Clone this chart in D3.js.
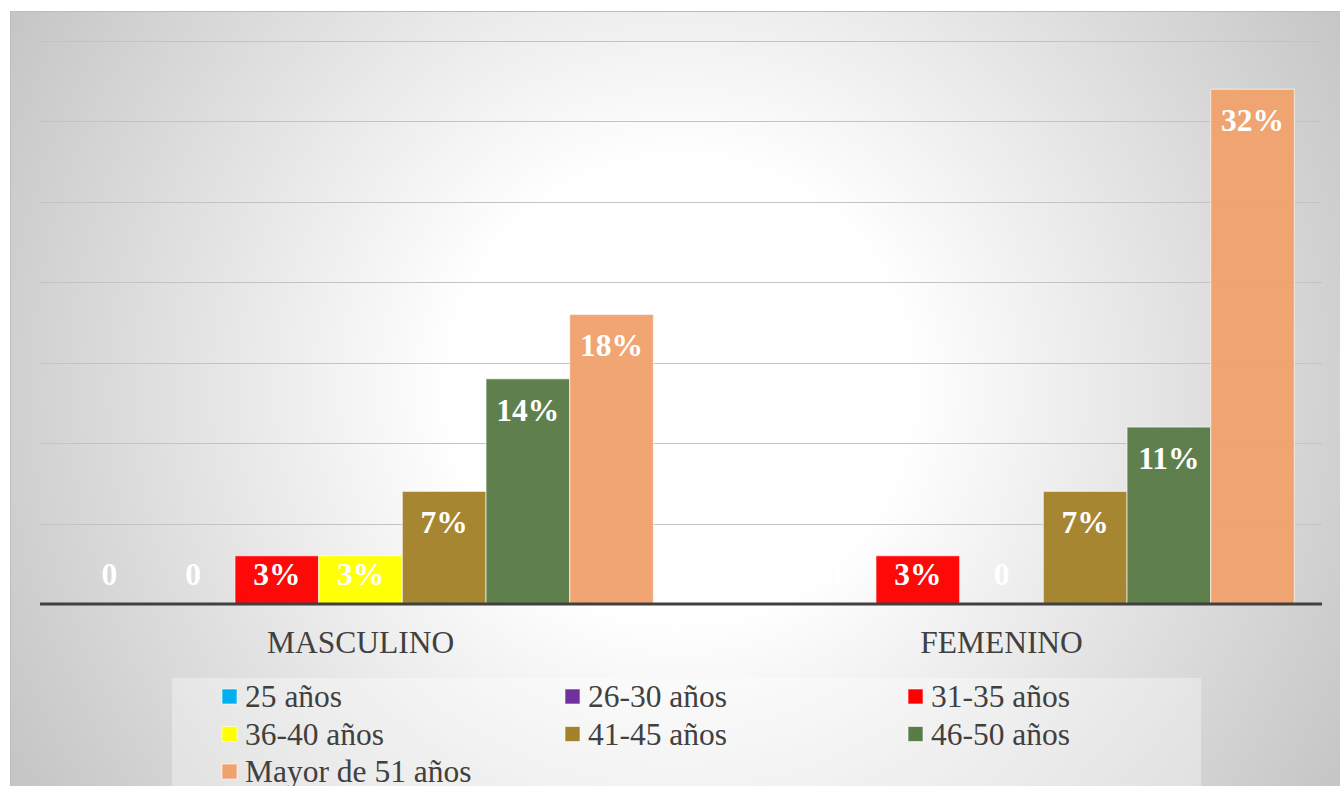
<!DOCTYPE html>
<html><head><meta charset="utf-8">
<script src="https://cdn.jsdelivr.net/npm/d3@7"></script>
<style>html,body{margin:0;padding:0;background:#fff;overflow:hidden}</style>
</head><body>
<svg id="c" width="1340" height="786"></svg>
<script>
const categories = ["MASCULINO", "FEMENINO"];
const seriesNames = ["25 años", "26-30 años", "31-35 años", "36-40 años", "41-45 años", "46-50 años", "Mayor de 51 años"];
const seriesColors = ["#00B0F0", "#7030A0", "#FF0000", "#FFFF00", "#A4822A", "#5A7C47", "#F0A26E"];
const masculino = [0, 0, 3, 3, 7, 14, 18];
const femenino = [0, 0, 3, 0, 7, 11, 32];
const yTicks = [0, 5, 10, 15, 20, 25, 30, 35];

const values = {MASCULINO: masculino, FEMENINO: femenino};
const svg = d3.select("#c");
const defs = svg.append("defs");
const g = defs.append("radialGradient").attr("id", "bg")
  .attr("gradientUnits", "userSpaceOnUse").attr("cx", 680).attr("cy", 390).attr("r", 760);
g.append("stop").attr("offset", "0").attr("stop-color", "#ffffff");
g.append("stop").attr("offset", "0.3").attr("stop-color", "#ffffff");
g.append("stop").attr("offset", "1").attr("stop-color", "#c6c6c6");

svg.append("rect").attr("x", 10.5).attr("y", 11.5).attr("width", 1340).attr("height", 800)
  .attr("fill", "url(#bg)").attr("stroke", "#bdbdbd").attr("stroke-width", 1);

const pLeft = 40, pRight = 1322, pTop = 41, pBottom = 604;
const y = d3.scaleLinear().domain([0, 35]).range([pBottom, pTop]);
const x0 = d3.scaleBand().domain(categories).range([pLeft, pRight]).padding(0);
const x1 = d3.scaleBand().domain(seriesNames).range([0, x0.bandwidth()]).paddingInner(0).paddingOuter(0.33);

// gridlines
svg.append("g").selectAll("line").data(yTicks.filter(t => t > 0)).join("line")
  .attr("x1", pLeft).attr("x2", pRight)
  .attr("y1", d => Math.round(y(d)) + 0.5).attr("y2", d => Math.round(y(d)) + 0.5)
  .attr("stroke", "#c3c3c3").attr("stroke-width", 1);

// bars
const groups = svg.append("g").selectAll("g").data(categories).join("g")
  .attr("transform", d => `translate(${x0(d)},0)`);
groups.selectAll("rect").data(c => values[c].map((v, i) => ({v, s: seriesNames[i], i})))
  .join("rect")
  .attr("x", d => x1(d.s)).attr("width", x1.bandwidth())
  .attr("y", d => y(d.v)).attr("height", d => pBottom - y(d.v))
  .attr("fill", d => seriesColors[d.i]).attr("fill-opacity", 0.97)
  .attr("stroke", d => d.v > 0 ? "rgba(255,255,255,0.55)" : "none").attr("stroke-width", 1.2);

groups.selectAll("text").data(c => values[c].map((v, i) => ({v, s: seriesNames[i], i})))
  .join("text")
  .attr("x", d => x1(d.s) + x1.bandwidth() / 2)
  .attr("y", d => Math.min(y(d.v) + 42, pBottom - 19))
  .attr("text-anchor", "middle")
  .attr("font-family", "'Liberation Serif', 'Times New Roman', serif")
  .attr("font-weight", "bold").attr("font-size", 31.5).attr("fill", "#ffffff")
  .text(d => d.v === 0 ? "0" : d.v + "%");

// baseline axis
const xAxis = svg.append("g").attr("transform", `translate(0,${pBottom})`)
  .call(d3.axisBottom(x0).tickSize(0).tickPadding(0));
xAxis.select(".domain").attr("stroke", "#404040").attr("stroke-width", 3)
  .attr("d", `M${pLeft},0H${pRight}`);
xAxis.selectAll(".tick text").attr("y", 49).attr("dy", 0)
  .attr("font-family", "'Liberation Serif', 'Times New Roman', serif")
  .attr("font-size", 31.5).attr("fill", "#404040");

// legend
svg.append("rect").attr("x", 172).attr("y", 678).attr("width", 1029).attr("height", 120)
  .attr("fill", "#ffffff").attr("fill-opacity", 0.35);
const leg = svg.append("g").selectAll("g").data(seriesNames).join("g")
  .attr("transform", (d, i) => `translate(${222 + (i % 3) * 343},${707 + Math.floor(i / 3) * 37.5})`);
leg.append("rect").attr("x", 0).attr("y", -18).attr("width", 15).attr("height", 15)
  .attr("fill", (d, i) => seriesColors[i]).attr("stroke", "rgba(255,255,255,0.6)");
leg.append("text").attr("x", 23).attr("y", 0)
  .attr("font-family", "'Liberation Serif', 'Times New Roman', serif")
  .attr("font-size", 31.5).attr("fill", "#404040").text(d => d);
</script>
</body></html>
